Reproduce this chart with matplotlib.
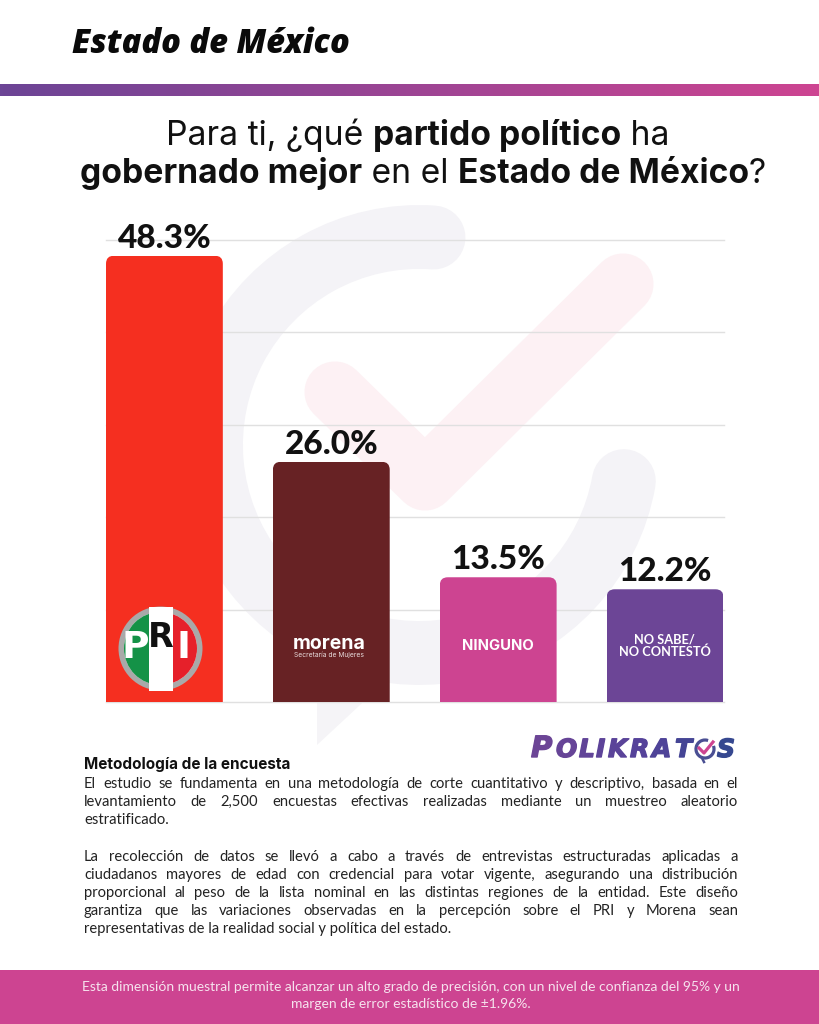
import numpy as np
import matplotlib
matplotlib.use("Agg")
import matplotlib.pyplot as plt
import matplotlib.patheffects as pe
from matplotlib.patches import FancyBboxPatch, Ellipse, Rectangle, Arc, Polygon
from matplotlib.colors import LinearSegmentedColormap, to_hex

# data
categorias = ["PRI", "Morena", "Ninguno", "No sabe/No contestó"]
valores = [48.3, 26.0, 13.5, 12.2]
colores = ["#f52f20", "#672224", "#cd4491", "#6c4596"]
etiquetas = ["48.3%", "26.0%", "13.5%", "12.2%"]
yticks = [0, 10, 20, 30, 40, 50]

header = "Estado de México"
titulo1 = [("Para ti, ¿qué ", "normal"), ("partido político", "bold"), (" ha", "normal")]
titulo2 = [("gobernado mejor", "bold"), (" en el ", "normal"), ("Estado de México", "bold"), ("?", "normal")]
metodo_tit = "Metodología de la encuesta"
parrafo1 = ["El estudio se fundamenta en una metodología de corte cuantitativo y descriptivo, basada en el",
            "levantamiento de 2,500 encuestas efectivas realizadas mediante un muestreo aleatorio",
            "estratificado."]
parrafo2 = ["La recolección de datos se llevó a cabo a través de entrevistas estructuradas aplicadas a",
            "ciudadanos mayores de edad con credencial para votar vigente, asegurando una distribución",
            "proporcional al peso de la lista nominal en las distintas regiones de la entidad. Este diseño",
            "garantiza que las variaciones observadas en la percepción sobre el PRI y Morena sean",
            "representativas de la realidad social y política del estado."]
pie = ["Esta dimensión muestral permite alcanzar un alto grado de precisión, con un nivel de confianza del 95% y un",
       "margen de error estadístico de ±1.96%."]

FUENTE = "Lato"
TIT = "Inter"
W, H = 819, 1024
fig = plt.figure(figsize=(W / 100, H / 100), dpi=100, facecolor="white")

# fondo en coordenadas de pixel
bg = fig.add_axes([0, 0, 1, 1], zorder=0)
bg.set_xlim(0, W)
bg.set_ylim(H, 0)
bg.axis("off")

# marca de agua
bg.add_patch(Polygon([(300, 590), (317, 640), (317, 745), (430, 640)], fc="#f5f4f7", ec="none"))
bg.add_patch(Arc((419, 445), 416, 416, theta1=10, theta2=274, color="#f4f3f7", lw=46, capstyle="round"))
bg.plot([335, 425, 623], [392, 480, 284], color="#fdf1f4", lw=44, solid_capstyle="round", solid_joinstyle="round")

# barra degradada
cmap = LinearSegmentedColormap.from_list("g", ["#6c4596", "#cd4491"])
bg.imshow(np.linspace(0, 1, 256).reshape(1, -1), cmap=cmap, extent=[0, W, 96, 84], aspect="auto")
bg.set_xlim(0, W)
bg.set_ylim(H, 0)

# pie
bg.add_patch(Rectangle((0, 970), W, 54, color="#cd4491", lw=0))

# barras
px_l, px_r, px_top, px_bot = 106, 723.5, 240, 702
ax = fig.add_axes([px_l / W, 1 - px_bot / H, (px_r - px_l) / W, (px_bot - px_top) / H], zorder=1)
ax.patch.set_alpha(0)
ax.set_xlim(-0.35, 3.35)
ax.set_ylim(0, 50)
for s in ax.spines.values():
    s.set_visible(False)
ax.set_xticks([])
ax.set_yticks(yticks)
ax.tick_params(left=False, labelleft=False)
ax.grid(axis="y", color="#e0e0e0", lw=1, clip_on=False)
ax.set_axisbelow(True)

x = np.arange(len(valores))
ux = (px_r - px_l) / 3.7
uy = (px_bot - px_top) / 50
bars = ax.bar(x, valores, width=0.70, color=colores, zorder=2)
for b in bars:
    clip = FancyBboxPatch((b.get_x(), -3), b.get_width(), b.get_height() + 3,
                          boxstyle=f"round,pad=0,rounding_size={8 / ux}",
                          mutation_aspect=ux / uy, transform=ax.transData, fc="none", ec="none")
    b.set_clip_path(clip)
for xi, v, e in zip(x, valores, etiquetas):
    ax.annotate(e, (xi, v), xytext=(0, 2), textcoords="offset points", ha="center", va="bottom",
                fontsize=24, fontweight="black", family=FUENTE, color="#111111", zorder=4, annotation_clip=False)

# capa de texto y logos
fg = fig.add_axes([0, 0, 1, 1], zorder=2)
fg.set_xlim(0, W)
fg.set_ylim(H, 0)
fg.axis("off")
fig.canvas.draw()
rend = fig.canvas.get_renderer()


def ancho(s, **kw):
    t = fg.text(0, 0, s, **kw)
    w = t.get_window_extent(rend).width
    t.remove()
    return w


def linea_rica(trozos, y, cx, size):
    # linea centrada con partes normales y negritas
    anchos = []
    for s, w in trozos:
        a = ancho("x" + s + "x", fontsize=size, family=TIT, fontweight=w) - ancho("xx", fontsize=size, family=TIT, fontweight=w)
        anchos.append(a)
    xx = cx - sum(anchos) / 2
    for (s, w), a in zip(trozos, anchos):
        fg.text(xx, y, s, fontsize=size, family=TIT, fontweight=w, va="baseline", color="#111111")
        xx += a


def justificada(s, y, x0, x1, size, just=True):
    # texto justificado colocando palabra por palabra
    kw = dict(fontsize=size, family=FUENTE, color="#222222", va="center")
    if not just:
        fg.text(x0, y, s, **kw)
        return
    palabras = s.split(" ")
    anchos = [ancho(p, **kw) for p in palabras]
    hueco = (x1 - x0 - sum(anchos)) / (len(palabras) - 1)
    xx = x0
    for p, a in zip(palabras, anchos):
        fg.text(xx, y, p, **kw)
        xx += a + hueco


# cabecera
fg.text(72, 44, header, fontsize=23.5, family="Open Sans", fontweight="extra bold", style="italic", va="center", color="#0a0a0a")

# titulo
linea_rica(titulo1, 145, 418, 24.2)
linea_rica(titulo2, 183, 423, 24.2)

# PRI
cx, cy = 160.5, 648.5
fg.add_patch(Ellipse((cx, cy), 84, 84, fc="#a9a9a9", ec="none", zorder=3))
disco = Ellipse((cx, cy), 73, 73, fc="#ffffff", ec="none", zorder=3.1)
fg.add_patch(disco)
for x0, w, c in [(cx - 42, 30, "#149247"), (cx + 12, 30, "#e6202a")]:
    r = Rectangle((x0, cy - 42), w, 84, fc=c, ec="none", zorder=3.2)
    fg.add_patch(r)
    r.set_clip_path(disco)
fg.add_patch(Rectangle((cx - 12, cy - 42), 24, 84, fc="white", ec="none", zorder=3.3))
narrow = "Liberation Sans Narrow"
fg.text(135.5, 648, "P", color="white", fontsize=27, fontweight="bold", family=narrow, ha="center", va="center", zorder=4)
fg.text(160.5, 637.5, "R", color="#111111", fontsize=24, fontweight="bold", family=narrow, ha="center", va="center", zorder=4)
fg.text(184, 647.5, "I", color="white", fontsize=27, fontweight="bold", family=narrow, ha="center", va="center", zorder=4)

# etiquetas de barras
fg.text(329, 644, "morena", color="white", fontsize=14, fontweight="bold", family=TIT, ha="center", va="center", zorder=4)
fg.text(329, 655, "Secretaría de Mujeres", color="#e8dcdc", fontsize=4.8, family=TIT, ha="center", va="center", zorder=4)
fg.text(498, 645.5, "NINGUNO", color="white", fontsize=10.7, fontweight="bold", family=TIT, ha="center", va="center", zorder=4)
fg.text(664.5, 640, "NO SABE/", color="white", fontsize=9.2, fontweight="bold", family=FUENTE, ha="center", va="center", zorder=4)
fg.text(664.5, 651.5, "NO CONTESTÓ", color="white", fontsize=9.2, fontweight="bold", family=FUENTE, ha="center", va="center", zorder=4)

# logo Polikratos, letra por letra para el degradado
cmap_logo = LinearSegmentedColormap.from_list("l", ["#6c4596", "#54429a", "#2f4a8e"])
logo_kw = dict(family="DejaVu Sans", fontweight="bold", style="oblique", va="baseline", zorder=4)
letras = [("P", 531, 21), ("O", 556, 18), ("L", 579, 18), ("I", 596, 18), ("K", 608, 18),
          ("R", 630, 18), ("A", 652, 18), ("T", 675, 18), ("S", 717, 18)]
for s, lx, size in letras:
    c = to_hex(cmap_logo((lx - 531) / 207))
    fg.text(lx, 757, s, color=c, fontsize=size, path_effects=[pe.withStroke(linewidth=1, foreground=c)], **logo_kw)
fg.add_patch(Arc((705, 749), 18, 18, theta1=-20, theta2=290, color="#4a4f93", lw=2.3, zorder=4))
fg.plot([699, 704, 713], [748, 753, 742], color="#cd4491", lw=2.3, zorder=5)
fg.plot([702, 704], [758, 762], color="#4a4f93", lw=1.8, zorder=4)

# metodologia
fg.text(84, 764, metodo_tit, fontsize=11, fontweight="bold", family=TIT, va="center", color="#111111")
for i, (s, y) in enumerate(zip(parrafo1, [784, 802, 820])):
    justificada(s, y, 84, 738, 10.6, just=i < 2)
for i, (s, y) in enumerate(zip(parrafo2, [857, 875, 893, 911, 929])):
    justificada(s, y, 84, 738, 10.6, just=i < 4)

# texto del pie
for s, y in zip(pie, [987, 1004]):
    fg.text(411, y, s, fontsize=10, color="#f6e3ee", family=FUENTE, ha="center", va="center")

fig.savefig("out.png", dpi=100)
